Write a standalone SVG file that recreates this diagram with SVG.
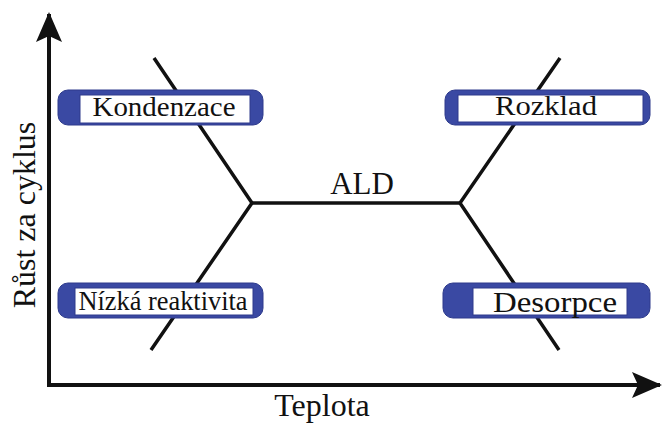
<svg xmlns="http://www.w3.org/2000/svg" width="662" height="423" viewBox="0 0 662 423">
<style>
.t{font-family:"Liberation Serif","Times New Roman",serif;fill:#111;}
.ln{stroke:#111;stroke-width:3.5;fill:none;stroke-linecap:butt;}
.ax{stroke:#111;stroke-width:4;fill:none;}
.pill{fill:#3a49a3;stroke:#2e3b8c;stroke-width:1;}
.in{fill:#fff;stroke:#2e3b8c;stroke-width:1;}
</style>
<defs>
<marker id="ah" viewBox="0 0 30 30" refX="28" refY="15" markerWidth="30" markerHeight="30" markerUnits="userSpaceOnUse" orient="auto">
<path d="M0,2 L30,15 L0,28 L6,15 Z" fill="#111"/>
</marker>
</defs>
<rect width="662" height="423" fill="#fff"/>
<g id="axes">
<line class="ax" x1="49" y1="387" x2="49" y2="14" marker-end="url(#ah)"/>
<line class="ax" x1="47" y1="385" x2="660" y2="385" marker-end="url(#ah)"/>
<text class="t" x="322" y="416" font-size="32" text-anchor="middle">Teplota</text>
<text class="t" font-size="32" text-anchor="middle" transform="translate(35,215) rotate(-90)">Růst za cyklus</text>
</g>
<g id="connectors">
<polyline class="ln" points="154,58 252,203 151,350"/>
<polyline class="ln" points="560,58 460,203 559,350"/>
<line class="ln" x1="252" y1="203" x2="460" y2="203"/>
</g>
<g id="ald">
<text class="t" x="362" y="194" font-size="31" text-anchor="middle">ALD</text>
</g>
<g id="kondenzace">
<rect class="pill" x="58" y="90" width="205" height="35" rx="10"/>
<rect class="in" x="80" y="95" width="170" height="28"/>
<text class="t" x="164" y="116" font-size="28" text-anchor="middle" textLength="143" lengthAdjust="spacingAndGlyphs">Kondenzace</text>
</g>
<g id="rozklad">
<rect class="pill" x="445" y="90" width="205" height="35" rx="10"/>
<rect class="in" x="458" y="95" width="185" height="27"/>
<text class="t" x="546" y="115" font-size="28" text-anchor="middle" textLength="102" lengthAdjust="spacingAndGlyphs">Rozklad</text>
</g>
<g id="nizka">
<rect class="pill" x="58" y="283" width="205" height="35" rx="10"/>
<rect class="in" x="75" y="288" width="178" height="27"/>
<text class="t" x="163" y="310" font-size="27" text-anchor="middle" textLength="169" lengthAdjust="spacingAndGlyphs">Nízká reaktivita</text>
</g>
<g id="desorpce">
<rect class="pill" x="443" y="283" width="207" height="35" rx="10"/>
<rect class="in" x="473" y="288" width="154" height="27"/>
<text class="t" x="555" y="312" font-size="30" text-anchor="middle" textLength="124" lengthAdjust="spacingAndGlyphs">Desorpce</text>
</g>
</svg>
